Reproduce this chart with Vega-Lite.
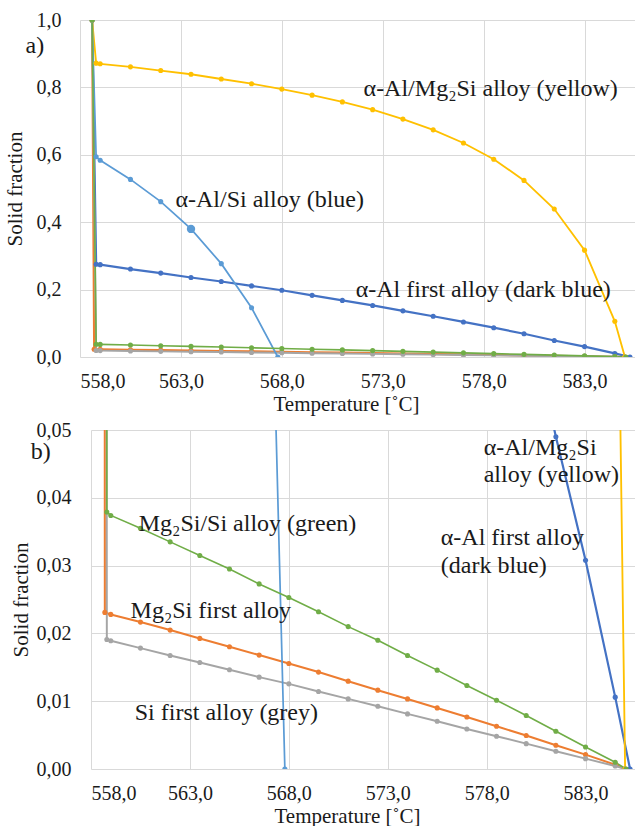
{
  "$schema": "https://vega.github.io/schema/vega-lite/v6.json",
  "background": "white",
  "padding": {"left": 4, "top": 10, "right": 0, "bottom": 0},
  "spacing": 6,
  "datasets": {
    "curves": [
      {"s": "s1", "T": 558.6, "v": 1.0}, {"s": "s1", "T": 558.8, "v": 0.275}, {"s": "s1", "T": 559.0, "v": 0.274}, {"s": "s1", "T": 560.5, "v": 0.261}, {"s": "s1", "T": 562.0, "v": 0.249}, {"s": "s1", "T": 563.5, "v": 0.236}, {"s": "s1", "T": 565.0, "v": 0.224}, {"s": "s1", "T": 566.5, "v": 0.211}, {"s": "s1", "T": 568.0, "v": 0.198}, {"s": "s1", "T": 569.5, "v": 0.183}, {"s": "s1", "T": 571.0, "v": 0.168}, {"s": "s1", "T": 572.5, "v": 0.153}, {"s": "s1", "T": 574.0, "v": 0.137}, {"s": "s1", "T": 575.5, "v": 0.121}, {"s": "s1", "T": 577.0, "v": 0.104}, {"s": "s1", "T": 578.5, "v": 0.087}, {"s": "s1", "T": 580.0, "v": 0.069}, {"s": "s1", "T": 581.5, "v": 0.049}, {"s": "s1", "T": 583.0, "v": 0.0308}, {"s": "s1", "T": 584.5, "v": 0.0106}, {"s": "s1", "T": 585.25, "v": 0.0},
      {"s": "s2", "T": 558.6, "v": 1.0}, {"s": "s2", "T": 558.7, "v": 0.0231}, {"s": "s2", "T": 559.0, "v": 0.0228}, {"s": "s2", "T": 560.5, "v": 0.02167}, {"s": "s2", "T": 562.0, "v": 0.02049}, {"s": "s2", "T": 563.5, "v": 0.01926}, {"s": "s2", "T": 565.0, "v": 0.01803}, {"s": "s2", "T": 566.5, "v": 0.0168}, {"s": "s2", "T": 568.0, "v": 0.01557}, {"s": "s2", "T": 569.5, "v": 0.01429}, {"s": "s2", "T": 571.0, "v": 0.01296}, {"s": "s2", "T": 572.5, "v": 0.01163}, {"s": "s2", "T": 574.0, "v": 0.01034}, {"s": "s2", "T": 575.5, "v": 0.00901}, {"s": "s2", "T": 577.0, "v": 0.00768}, {"s": "s2", "T": 578.5, "v": 0.00631}, {"s": "s2", "T": 580.0, "v": 0.00493}, {"s": "s2", "T": 581.5, "v": 0.0035}, {"s": "s2", "T": 583.0, "v": 0.00212}, {"s": "s2", "T": 584.5, "v": 0.00064}, {"s": "s2", "T": 585.0, "v": 0.0},
      {"s": "s3", "T": 558.6, "v": 1.0}, {"s": "s3", "T": 558.8, "v": 0.01911}, {"s": "s3", "T": 559.0, "v": 0.01892}, {"s": "s3", "T": 560.5, "v": 0.01783}, {"s": "s3", "T": 562.0, "v": 0.01675}, {"s": "s3", "T": 563.5, "v": 0.01571}, {"s": "s3", "T": 565.0, "v": 0.01463}, {"s": "s3", "T": 566.5, "v": 0.01355}, {"s": "s3", "T": 568.0, "v": 0.01256}, {"s": "s3", "T": 569.5, "v": 0.01143}, {"s": "s3", "T": 571.0, "v": 0.01034}, {"s": "s3", "T": 572.5, "v": 0.00926}, {"s": "s3", "T": 574.0, "v": 0.00813}, {"s": "s3", "T": 575.5, "v": 0.00704}, {"s": "s3", "T": 577.0, "v": 0.00591}, {"s": "s3", "T": 578.5, "v": 0.00483}, {"s": "s3", "T": 580.0, "v": 0.00374}, {"s": "s3", "T": 581.5, "v": 0.00261}, {"s": "s3", "T": 583.0, "v": 0.00153}, {"s": "s3", "T": 584.5, "v": 0.00044}, {"s": "s3", "T": 585.0, "v": 0.0},
      {"s": "s4", "T": 558.6, "v": 1.0}, {"s": "s4", "T": 558.8, "v": 0.872}, {"s": "s4", "T": 559.0, "v": 0.870}, {"s": "s4", "T": 560.5, "v": 0.861}, {"s": "s4", "T": 562.0, "v": 0.850}, {"s": "s4", "T": 563.5, "v": 0.839}, {"s": "s4", "T": 565.0, "v": 0.825}, {"s": "s4", "T": 566.5, "v": 0.811}, {"s": "s4", "T": 568.0, "v": 0.795}, {"s": "s4", "T": 569.5, "v": 0.777}, {"s": "s4", "T": 571.0, "v": 0.757}, {"s": "s4", "T": 572.5, "v": 0.734}, {"s": "s4", "T": 574.0, "v": 0.706}, {"s": "s4", "T": 575.5, "v": 0.674}, {"s": "s4", "T": 577.0, "v": 0.635}, {"s": "s4", "T": 578.5, "v": 0.587}, {"s": "s4", "T": 580.0, "v": 0.524}, {"s": "s4", "T": 581.5, "v": 0.439}, {"s": "s4", "T": 583.0, "v": 0.317}, {"s": "s4", "T": 584.5, "v": 0.106}, {"s": "s4", "T": 585.0, "v": 0.0},
      {"s": "s5", "T": 558.6, "v": 1.0}, {"s": "s5", "T": 558.8, "v": 0.594}, {"s": "s5", "T": 559.0, "v": 0.584}, {"s": "s5", "T": 560.5, "v": 0.527}, {"s": "s5", "T": 562.0, "v": 0.461}, {"s": "s5", "T": 563.5, "v": 0.380}, {"s": "s5", "T": 565.0, "v": 0.277}, {"s": "s5", "T": 566.5, "v": 0.146}, {"s": "s5", "T": 567.8, "v": 0.0},
      {"s": "s6", "T": 558.6, "v": 1.0}, {"s": "s6", "T": 558.8, "v": 0.0379}, {"s": "s6", "T": 559.0, "v": 0.0374}, {"s": "s6", "T": 560.5, "v": 0.0355}, {"s": "s6", "T": 562.0, "v": 0.0335}, {"s": "s6", "T": 563.5, "v": 0.0315}, {"s": "s6", "T": 565.0, "v": 0.0295}, {"s": "s6", "T": 566.5, "v": 0.0273}, {"s": "s6", "T": 568.0, "v": 0.0253}, {"s": "s6", "T": 569.5, "v": 0.0232}, {"s": "s6", "T": 571.0, "v": 0.0210}, {"s": "s6", "T": 572.5, "v": 0.0190}, {"s": "s6", "T": 574.0, "v": 0.01675}, {"s": "s6", "T": 575.5, "v": 0.01458}, {"s": "s6", "T": 577.0, "v": 0.01232}, {"s": "s6", "T": 578.5, "v": 0.01015}, {"s": "s6", "T": 580.0, "v": 0.00788}, {"s": "s6", "T": 581.5, "v": 0.00557}, {"s": "s6", "T": 583.0, "v": 0.00325}, {"s": "s6", "T": 584.5, "v": 0.00099}, {"s": "s6", "T": 585.05, "v": 0.0}
    ],
    "notesA": [
      {"label": "a)", "T": 555.3, "v": 0.922},
      {"label": "α-Al/Mg₂Si alloy (yellow)", "T": 572.05, "v": 0.795},
      {"label": "α-Al/Si alloy (blue)", "T": 562.73, "v": 0.465},
      {"label": "α-Al first alloy (dark blue)", "T": 571.66, "v": 0.198}
    ],
    "notesB": [
      {"label": "b)", "T": 554.95, "v": 0.0467},
      {"label": "Mg₂Si/Si alloy (green)", "T": 560.41, "v": 0.0361},
      {"label": "Mg₂Si first alloy", "T": 560.0, "v": 0.0233},
      {"label": "Si first alloy (grey)", "T": 560.21, "v": 0.0082},
      {"label": "α-Al/Mg₂Si", "T": 577.85, "v": 0.0473},
      {"label": "alloy (yellow)", "T": 577.85, "v": 0.0433},
      {"label": "α-Al first alloy", "T": 575.68, "v": 0.034},
      {"label": "(dark blue)", "T": 575.68, "v": 0.030}
    ]
  },
  "config": {
    "view": {"stroke": null},
    "font": "Liberation Serif",
    "axis": {
      "domain": false,
      "ticks": false,
      "grid": true,
      "gridColor": "#d9d9d9",
      "gridWidth": 1,
      "labelFont": "Liberation Serif",
      "labelFontSize": 20,
      "labelColor": "#1a1a1a",
      "titleFont": "Liberation Serif",
      "titleFontSize": 21,
      "titleFontWeight": "normal",
      "titleColor": "#1a1a1a"
    },
    "text": {"font": "Liberation Serif", "fontSize": 24, "color": "#1a1a1a"}
  },
  "resolve": {"scale": {"x": "independent", "y": "independent"}},
  "vconcat": [
    {
      "width": 555,
      "height": 337,
      "encoding": {
        "x": {"field": "T", "type": "quantitative", "scale": {"domain": [558, 585.5], "nice": false, "zero": false},
          "axis": {"title": "Temperature [˚C]", "titleX": 266, "labelFont": "Liberation Serif", "titleFont": "Liberation Serif", "values": [558, 563, 568, 573, 578, 583], "labelExpr": "replace(format(datum.value, '.1f'), '.', ',')", "labelPadding": 14, "titlePadding": 2}},
        "y": {"field": "v", "type": "quantitative", "scale": {"domain": [0, 1], "nice": false},
          "axis": {"title": "Solid fraction", "labelFont": "Liberation Serif", "titleFont": "Liberation Serif", "values": [0, 0.2, 0.4, 0.6, 0.8, 1.0], "labelExpr": "replace(format(datum.value, '.1f'), '.', ',')", "labelPadding": 19, "titlePadding": 11}}
      },
      "layer": [
        {
          "data": {"name": "curves"},
          "mark": {"type": "line", "clip": true},
          "encoding": {
            "color": {"field": "s", "type": "nominal", "scale": {"domain": ["s1", "s2", "s3", "s4", "s5", "s6"], "range": ["#4472C4", "#ED7D31", "#A5A5A5", "#FFC000", "#5B9BD5", "#70AD47"]}, "legend": null},
            "strokeWidth": {"field": "s", "type": "ordinal", "scale": {"domain": ["s1", "s2", "s3", "s4", "s5", "s6"], "range": [2.2, 1.6, 1.6, 1.6, 1.4, 1.6]}, "legend": null}
          }
        },
        {
          "data": {"name": "curves"},
          "mark": {"type": "point", "filled": true, "opacity": 1, "size": 26, "clip": true},
          "encoding": {
            "color": {"field": "s", "type": "nominal", "legend": null}
          }
        },
        {
          "data": {"name": "curves"},
          "transform": [{"filter": "datum.s == 's5' && datum.T == 563.5"}],
          "mark": {"type": "point", "filled": true, "opacity": 1, "size": 70, "clip": true},
          "encoding": {
            "color": {"field": "s", "type": "nominal", "legend": null}
          }
        },
        {
          "data": {"name": "notesA"},
          "mark": {"type": "text", "align": "left", "baseline": "middle", "font": "Liberation Serif"},
          "encoding": {"text": {"field": "label", "type": "nominal"}}
        }
      ]
    },
    {
      "width": 555,
      "height": 339,
      "encoding": {
        "x": {"field": "T", "type": "quantitative", "scale": {"domain": [558, 585.5], "nice": false, "zero": false, "range": [11, 555]},
          "axis": {"title": "Temperature [˚C]", "titleX": 267, "labelFont": "Liberation Serif", "titleFont": "Liberation Serif", "values": [558, 563, 568, 573, 578, 583], "labelExpr": "replace(format(datum.value, '.1f'), '.', ',')", "labelPadding": 14, "titlePadding": 2}},
        "y": {"field": "v", "type": "quantitative", "scale": {"domain": [0, 0.05], "nice": false},
          "axis": {"title": "Solid fraction", "labelFont": "Liberation Serif", "titleFont": "Liberation Serif", "values": [0, 0.01, 0.02, 0.03, 0.04, 0.05], "labelExpr": "replace(format(datum.value, '.2f'), '.', ',')", "labelPadding": 9, "titlePadding": 5}}
      },
      "layer": [
        {
          "data": {"name": "curves"},
          "mark": {"type": "line", "clip": true},
          "encoding": {
            "color": {"field": "s", "type": "nominal", "scale": {"domain": ["s1", "s2", "s3", "s4", "s5", "s6"], "range": ["#4472C4", "#ED7D31", "#A5A5A5", "#FFC000", "#5B9BD5", "#70AD47"]}, "legend": null},
            "strokeWidth": {"field": "s", "type": "ordinal", "scale": {"domain": ["s1", "s2", "s3", "s4", "s5", "s6"], "range": [2.2, 1.6, 1.6, 1.6, 1.4, 1.6]}, "legend": null}
          }
        },
        {
          "data": {"name": "curves"},
          "mark": {"type": "point", "filled": true, "opacity": 1, "size": 26, "clip": true},
          "encoding": {
            "color": {"field": "s", "type": "nominal", "legend": null}
          }
        },
        {
          "data": {"name": "notesB"},
          "mark": {"type": "text", "align": "left", "baseline": "middle", "font": "Liberation Serif"},
          "encoding": {"text": {"field": "label", "type": "nominal"}}
        }
      ]
    }
  ]
}
